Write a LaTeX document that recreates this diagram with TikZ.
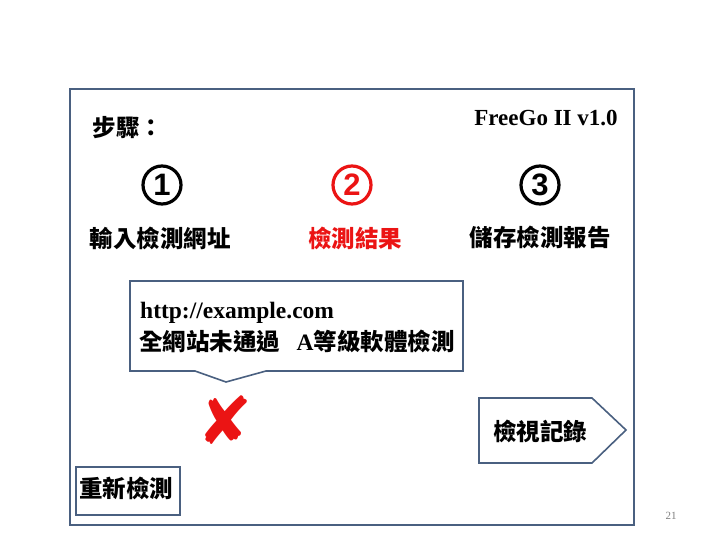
\documentclass[tikz,border=0pt]{standalone}
\usepackage{fontspec}
\setmainfont{Liberation Serif}
\newfontfamily\cjk{Noto Sans CJK TC}
\newfontfamily\symf{DejaVu Sans}
\newfontfamily\sansb{Liberation Sans}
\definecolor{frameblue}{RGB}{74,96,128}
\definecolor{xred}{RGB}{235,20,20}
\tikzset{
  cjktext/.style={font=\cjk\bfseries\fontsize{23.5}{27}\selectfont, inner sep=0pt},
  circnum/.style={circle, draw, line width=3.2pt, minimum size=38pt, inner sep=0pt,
                  font=\sansb\bfseries\fontsize{31}{34}\selectfont},
  shapeline/.style={draw=frameblue, line width=1.6pt},
}
\begin{document}
\begin{tikzpicture}[x=1pt,y=-1pt]
\useasboundingbox (0,0) rectangle (720,540);
% outer frame
\draw[shapeline] (70,89) rectangle (634,525);
% title texts
\node[cjktext] (steps) at (128,128) {步驟：};
\node[font=\bfseries\fontsize{23}{26}\selectfont, inner sep=0pt] (ver) at (546,118) {FreeGo II v1.0};
% circled numbers
\node[circnum] (n1) at (162,185) {1};
\node[circnum, draw=xred, text=xred] (n2) at (352,185) {2};
\node[circnum] (n3) at (540,185) {3};
% step labels
\node[cjktext] (l1) at (160,238) {輸入檢測網址};
\node[cjktext, text=xred] (l2) at (355,238) {檢測結果};
\node[cjktext] (l3) at (540,237) {儲存檢測報告};
% callout
\draw[shapeline] (130,281) -- (463,281) -- (463,371) -- (266,371) -- (226,382) -- (195,371) -- (130,371) -- cycle;
\node[anchor=west, font=\bfseries\fontsize{23.5}{26}\selectfont, inner sep=0pt] (url) at (140,313) {http://example.com};
\node[anchor=west, font=\cjk\bfseries\fontsize{23.5}{27}\selectfont, inner sep=0pt] (res) at (139,341) {全網站未通過\hspace{0.7em}{\rmfamily\bfseries A}等級軟體檢測};
% red X
\node[font=\symf\bfseries\fontsize{66}{70}\selectfont, text=xred, inner sep=0pt] (xmark) at (225,420) {✘};
% view record pentagon
\draw[shapeline] (479,398) -- (592,398) -- (626,430) -- (592,463) -- (479,463) -- cycle;
\node[cjktext] (view) at (540,431) {檢視記錄};
% retest box
\draw[shapeline] (76,467) rectangle (180,515);
\node[cjktext] (retest) at (126,488) {重新檢測};
% page number
\node[font=\fontsize{11}{12}\selectfont, text=gray, inner sep=0pt] (pg) at (671,516) {21};
\end{tikzpicture}
\end{document}
